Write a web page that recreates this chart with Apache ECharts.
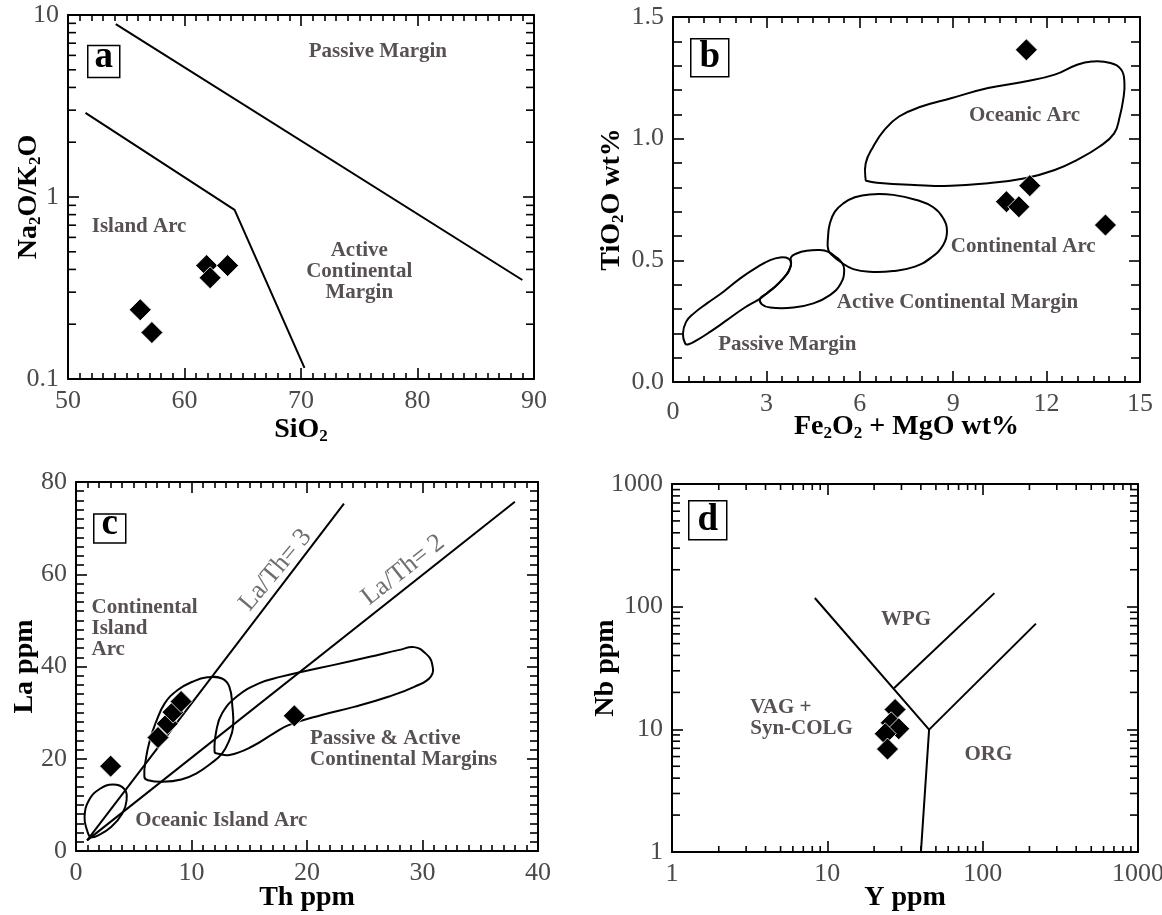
<!DOCTYPE html>
<html><head><meta charset="utf-8">
<script src="https://cdn.jsdelivr.net/npm/echarts@6/dist/echarts.min.js"></script>
<style>html,body{margin:0;padding:0;background:#fff}#c{width:1162px;height:915px}</style>
</head><body><div id="c"></div>
<script>
// ---------- Panel a : SiO2 vs Na2O/K2O ----------
const aSiO2  = [56.2, 57.2, 61.9, 62.2, 63.7];
const aRatio = [0.24, 0.18, 0.42, 0.36, 0.42];
const aLineUpper = [[54.1, 8.9], [89.0, 0.35]];
const aLineLower = [[51.5, 2.9], [64.3, 0.85], [70.3, 0.115]];
const aYMinor = [0.2,0.3,0.4,0.5,0.6,0.7,0.8,0.9,2,3,4,5,6,7,8,9];
const aLabels = [
  {name:'Passive Margin', x:76.6, y:6.29},
  {name:'Island Arc', x:56.1, y:0.687},
  {name:'Active\nContinental\nMargin', x:75.0, y:0.389}
];
// ---------- Panel b : Fe2O3+MgO vs TiO2 ----------
const bFeMg = [11.35, 11.46, 10.71, 11.11, 13.89];
const bTiO2 = [1.365, 0.807, 0.741, 0.720, 0.645];
const bOceanicArc = [[6.19,0.830],[6.19,0.899],[6.43,0.967],[6.79,1.036],[7.26,1.091],[7.98,1.132],[8.93,1.166],[10.12,1.208],[11.31,1.235],[12.26,1.263],[12.98,1.304],[13.45,1.317],[14.05,1.311],[14.40,1.283],[14.50,1.228],[14.46,1.160],[14.35,1.091],[14.17,1.022],[13.69,0.967],[12.98,0.913],[12.26,0.871],[11.31,0.837],[10.12,0.817],[8.93,0.806],[7.74,0.810],[6.55,0.819],[6.25,0.826]];
const bContArc = [[4.99,0.542],[4.98,0.597],[5.04,0.652],[5.20,0.700],[5.47,0.734],[5.84,0.759],[6.32,0.771],[7.07,0.769],[7.82,0.748],[8.36,0.718],[8.68,0.673],[8.80,0.618],[8.68,0.563],[8.30,0.512],[7.77,0.474],[7.07,0.456],[6.32,0.453],[5.79,0.464],[5.42,0.490],[5.15,0.517]];
const bActiveCM = [[2.80,0.343],[2.85,0.320],[3.12,0.306],[3.87,0.306],[4.51,0.323],[5.04,0.357],[5.39,0.405],[5.50,0.460],[5.42,0.491],[5.20,0.517],[4.99,0.535],[4.72,0.542],[4.29,0.539],[3.97,0.528],[3.79,0.512],[3.79,0.480],[3.63,0.439],[3.33,0.398],[3.01,0.364]];
const bPassiveM = [[0.39,0.158],[0.32,0.199],[0.42,0.247],[0.66,0.281],[1.09,0.323],[1.62,0.371],[2.16,0.426],[2.69,0.471],[3.12,0.501],[3.44,0.512],[3.71,0.507],[3.79,0.487],[3.71,0.453],[3.63,0.439],[3.33,0.398],[3.01,0.364],[2.80,0.343],[2.26,0.302],[1.73,0.254],[1.19,0.206],[0.77,0.172],[0.50,0.155]];
const bLabels = [
  {name:'Oceanic Arc', x:11.29, y:1.094},
  {name:'Continental Arc', x:11.25, y:0.556},
  {name:'Active Continental Margin', x:9.14, y:0.325},
  {name:'Passive Margin', x:3.67, y:0.155}
];
// ---------- Panel c : Th vs La ----------
const cTh = [3.0, 7.1, 7.9, 8.4, 9.1, 18.9];
const cLa = [18.4, 24.6, 27.6, 30.1, 32.4, 29.3];
const cLine3 = [[0.96, 2.3], [23.2, 75.3]];
const cLine2 = [[0.96, 2.3], [38.0, 75.7]];
const cOceanicIA = [[0.96,4.49],[0.74,7.39],[1.12,11.0],[2.08,13.5],[3.2,14.4],[4.16,13.5],[4.38,11.0],[4.0,8.1],[3.04,5.2],[1.92,3.4],[1.28,3.04]];
const cContIA = [[5.92,16.08],[6.08,20.42],[6.4,24.04],[6.88,27.66],[7.68,32.0],[8.8,34.9],[10.08,36.7],[11.36,37.65],[12.64,37.4],[13.28,35.6],[13.54,31.3],[13.6,26.9],[13.28,24.04],[12.64,21.1],[11.68,18.97],[10.4,16.8],[9.12,15.5],[7.52,15.0],[6.24,15.35]];
const cPACM = [[12.0,21.5],[12.16,26.2],[12.64,29.8],[13.92,33.5],[15.84,36.35],[17.76,37.8],[19.68,38.9],[22.24,40.3],[25.44,42.1],[28.0,43.6],[29.28,44.2],[30.24,42.9],[30.82,40.7],[30.72,37.8],[29.28,35.6],[27.04,33.45],[24.16,31.3],[21.28,29.5],[18.4,27.3],[17.12,25.5],[15.2,22.6],[13.28,20.8],[12.32,21.1]];
const cLabels = [
  {name:'Continental\nIsland\nArc', x:1.34, y:48.3, align:'left'},
  {name:'Oceanic Island Arc', x:5.12, y:6.66, align:'left'},
  {name:'Passive & Active\nContinental Margins', x:20.26, y:22.1, align:'left'}
];
const cRatioLabels = [
  {name:'La/Th= 3', x:17.28, y:60.9, rotate:50},
  {name:'La/Th= 2', x:28.33, y:60.9, rotate:38.3}
];
// ---------- Panel d : Y vs Nb ----------
const dY  = [27.3, 25.8, 28.8, 23.6, 24.4];
const dNb = [14.5, 11.3, 10.1, 9.2, 6.9];
const dLineMain  = [[8.31, 117.7], [45.2, 9.94], [40.05, 1]];
const dLineRight = [[45.2, 9.94], [220.3, 72.7]];
const dLineWPG   = [[26.95, 21.7], [119, 129]];
const dMinor = [2,3,4,5,6,7,8,9,20,30,40,50,60,70,80,90,200,300,400,500,600,700,800,900];
const dLabels = [
  {name:'WPG', x:32.1, y:78.3},
  {name:'VAG +\nSyn-COLG', x:3.19, y:12.4, align:'left'},
  {name:'ORG', x:108.9, y:6.2}
];

const FONT = '"Liberation Serif", "Times New Roman", serif';
const grids = [
  {left:68, top:15, width:466, height:364, outerBoundsMode:'none', containLabel:false},
  {left:673, top:17, width:467, height:365, outerBoundsMode:'none', containLabel:false},
  {left:76, top:482, width:462, height:369, outerBoundsMode:'none', containLabel:false},
  {left:672, top:484, width:466, height:368, outerBoundsMode:'none', containLabel:false}
];

function fmtNum(v){ return String(Number((+v).toPrecision(6))); }
const lineW = {color:'#000', width:2};
const tickW = {color:'#000', width:1.6};
function nameStyle(){
  return {fontFamily:FONT, fontSize:28, fontWeight:'bold', color:'#000', lineHeight:30,
    rich:{s:{fontFamily:FONT, fontSize:17, fontWeight:'bold', color:'#000', verticalAlign:'bottom', lineHeight:17}}};
}
function mkAxis(gi, pos, cfg, main){
  const ax = {
    gridIndex: gi, position: pos, type: cfg.type || 'value',
    min: cfg.min, max: cfg.max,
    axisLine: {show:true, onZero:false, lineStyle:lineW},
    axisTick: {show:true, inside:true, length:11, lineStyle:tickW},
    splitLine: {show:false},
    axisLabel: {show: !!main, color:'#4a4a4a', fontFamily:FONT, fontSize:26, margin:9,
      formatter: cfg.formatter || fmtNum, rich: cfg.rich},
    name: main ? cfg.name : '',
    nameLocation: 'middle', nameGap: cfg.nameGap, nameMoveOverlap: false,
    nameTextStyle: nameStyle()
  };
  if (cfg.type === 'log') ax.logBase = 10;
  else { ax.interval = cfg.interval;
    ax.minorTick = {show:true, splitNumber:cfg.minor, length:cfg.minorLen || 6, lineStyle:tickW}; }
  return ax;
}
const xCfg = [
  {min:50, max:90, interval:10, minor:10, name:'SiO{s|2}', nameGap:36},
  {min:0, max:15, interval:3, minor:6, name:'Fe{s|2}O{s|2} + MgO wt%', nameGap:30,
    formatter: v => v === 0 ? '{z|0}' : fmtNum(v),
    rich:{z:{padding:[8,0,0,0], color:'#4a4a4a', fontFamily:FONT, fontSize:26}}},
  {min:0, max:40, interval:10, minor:10, name:'Th ppm', nameGap:32},
  {type:'log', min:1, max:1000, name:'Y ppm', nameGap:31}
];
const yCfg = [
  {type:'log', min:0.1, max:10, name:'Na{s|2}O/K{s|2}O', nameGap:24},
  {min:0, max:1.5, interval:0.5, minor:5, minorLen:9, name:'TiO{s|2}O wt%', nameGap:46, formatter: v => (+v).toFixed(1)},
  {min:0, max:80, interval:20, minor:10, minorLen:8, name:'La ppm', nameGap:36},
  {type:'log', min:1, max:1000, name:'Nb ppm', nameGap:51}
];
const xAxis = [], yAxis = [];
for (let i = 0; i < 4; i++){
  xAxis.push(mkAxis(i, 'bottom', xCfg[i], true));
  xAxis.push(mkAxis(i, 'top', xCfg[i], false));
  yAxis.push(mkAxis(i, 'left', yCfg[i], true));
  yAxis.push(mkAxis(i, 'right', yCfg[i], false));
}

const series = [];
function lineS(p, data){
  series.push({type:'line', xAxisIndex:2*p, yAxisIndex:2*p, data:data, symbol:'none', silent:true,
    lineStyle:{color:'#000', width:2}, z:3, animation:false});
}
function shapeS(p, pts){
  series.push({type:'custom', xAxisIndex:2*p, yAxisIndex:2*p, data:[pts[0]], silent:true, z:3,
    renderItem: function(params, api){
      const points = pts.map(q => api.coord(q));
      return {type:'polygon', shape:{points:points, smooth:0.45},
        style:{fill:null, stroke:'#000', lineWidth:2}};
    }});
}
function pointsS(p, xs, ys){
  series.push({type:'scatter', xAxisIndex:2*p, yAxisIndex:2*p, data:xs.map((x,k)=>[x, ys[k]]),
    symbol:'diamond', symbolSize:22, z:10, silent:true,
    itemStyle:{color:'#000', borderColor:'#fff', borderWidth:0.8, opacity:1}});
}
function labelsS(p, labs, style){
  series.push({type:'scatter', xAxisIndex:2*p, yAxisIndex:2*p, symbolSize:0, silent:true, z:8,
    data: labs.map(l => ({value:[l.x, l.y], name:l.name,
      label:{align:l.align || 'center', rotate:l.rotate || 0}})),
    label: Object.assign({show:true, position:'inside', formatter: d => d.name,
      verticalAlign:'middle', fontFamily:FONT}, style)});
}
function yMinor(p, xRef, vals, len){
  series.push({type:'custom', xAxisIndex:2*p, yAxisIndex:2*p, silent:true, z:5,
    data: vals.map(v => [xRef, v]),
    renderItem: function(params, api){
      const cs = params.coordSys; const y = api.coord([api.value(0), api.value(1)])[1];
      return {type:'group', children:[
        {type:'line', shape:{x1:cs.x, y1:y, x2:cs.x+len, y2:y}, style:{stroke:'#000', lineWidth:1.6}},
        {type:'line', shape:{x1:cs.x+cs.width-len, y1:y, x2:cs.x+cs.width, y2:y}, style:{stroke:'#000', lineWidth:1.6}}]};
    }});
}
function xMinor(p, yRef, vals, len){
  series.push({type:'custom', xAxisIndex:2*p, yAxisIndex:2*p, silent:true, z:5,
    data: vals.map(v => [v, yRef]),
    renderItem: function(params, api){
      const cs = params.coordSys; const x = api.coord([api.value(0), api.value(1)])[0];
      return {type:'group', children:[
        {type:'line', shape:{x1:x, y1:cs.y+cs.height, x2:x, y2:cs.y+cs.height-len}, style:{stroke:'#000', lineWidth:1.6}},
        {type:'line', shape:{x1:x, y1:cs.y, x2:x, y2:cs.y+len}, style:{stroke:'#000', lineWidth:1.6}}]};
    }});
}
const regionStyle = {fontSize:21, fontWeight:'bold', color:'#2e2626', lineHeight:21};

// panel a
lineS(0, aLineUpper); lineS(0, aLineLower);
yMinor(0, 60, aYMinor, 8);
labelsS(0, aLabels, regionStyle);
pointsS(0, aSiO2, aRatio);
// panel b
shapeS(1, bOceanicArc); shapeS(1, bContArc); shapeS(1, bActiveCM); shapeS(1, bPassiveM);
labelsS(1, bLabels, regionStyle);
pointsS(1, bFeMg, bTiO2);
// panel c
lineS(2, cLine3); lineS(2, cLine2);
shapeS(2, cOceanicIA); shapeS(2, cContIA); shapeS(2, cPACM);
labelsS(2, cLabels, regionStyle);
labelsS(2, cRatioLabels, {fontSize:26, color:'#4a4a4a'});
pointsS(2, cTh, cLa);
// panel d
lineS(3, dLineMain); lineS(3, dLineRight); lineS(3, dLineWPG);
yMinor(3, 10, dMinor, 8); xMinor(3, 10, dMinor, 6);
labelsS(3, dLabels, regionStyle);
pointsS(3, dY, dNb);

function box(letter, left, top, w, h, dy){
  return {type:'group', left:left, top:top, z:20, children:[
    {type:'rect', shape:{x:0, y:0, width:w, height:h}, style:{fill:'#fff', stroke:'#000', lineWidth:1.5}},
    {type:'text', x:w/2, y:h/2 + dy, style:{text:letter, fontFamily:FONT, fontSize:37, fontWeight:'bold',
      fill:'#000', align:'center', verticalAlign:'middle'}}]};
}
const chart = echarts.init(document.getElementById('c'), null, {renderer:'canvas'});
chart.setOption({
  animation:false, backgroundColor:'#fff',
  grid: grids, xAxis: xAxis, yAxis: yAxis, series: series,
  graphic: [box('a', 87, 39, 32, 32, -4), box('b', 690, 38, 38, 38, 0), box('c', 93, 506, 32, 29, -4), box('d', 688, 500, 38, 39, 0)]
});
</script></body></html>
